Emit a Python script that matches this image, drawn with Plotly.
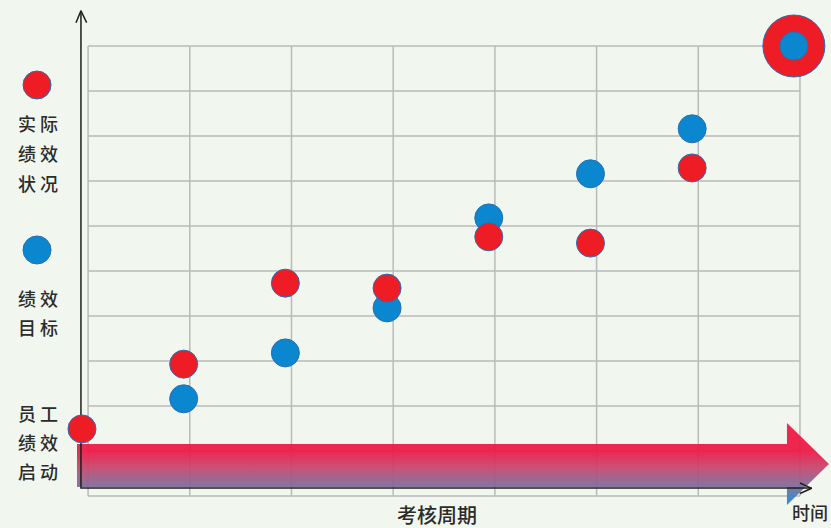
import plotly.graph_objects as go

# ---------------- data ----------------
periods_actual = [0, 1, 2, 3, 4, 5, 6]
actual_perf = [1.49, 2.93, 4.73, 4.62, 5.76, 5.62, 7.29]
periods_target = [1, 2, 3, 4, 5, 6]
target_perf = [2.16, 3.18, 4.18, 6.18, 7.16, 8.16]
final_period = [7]
final_value = [10]

grid_cols = [0.06, 1.06, 2.06, 3.06, 4.06, 5.06, 6.06, 7.06]
grid_rows = [0, 1, 2, 3, 4, 5, 6, 7, 8, 9, 10]

label_actual = ["实 际", "绩 效", "状 况"]
label_target = ["绩 效", "目 标"]
label_start = ["员 工", "绩 效", "启 动"]
x_title = "考核周期"
time_label = "时间"

RED = "#ee1c25"
BLUE = "#0a87cf"
EDGE = "#2a6db3"
BG = "#f1f7ee"
GRID = "#bababa"
TXT = "#2b2b2b"
FONT = "Noto Sans CJK SC"

XR = [-0.806, 7.365]
YR = [-0.711, 11.022]

fig = go.Figure()

# grid (below traces)
shapes = []
for gx in grid_cols:
    shapes.append(dict(type="line", xref="x", yref="y", x0=gx, x1=gx,
                       y0=grid_rows[0], y1=grid_rows[-1], layer="below",
                       line=dict(color=GRID, width=1.5)))
for gy in grid_rows:
    shapes.append(dict(type="line", xref="x", yref="y", x0=grid_cols[0], x1=grid_cols[-1],
                       y0=gy, y1=gy, layer="below",
                       line=dict(color=GRID, width=1.5)))

# big time arrow with gradient
arrow_x = [-0.049, 6.932, 6.932, 7.345, 6.932, 6.932, -0.049, -0.049]
arrow_y = [1.156, 1.156, 1.622, 0.711, -0.2, 0.2, 0.2, 1.156]
fig.add_trace(go.Scatter(
    x=arrow_x, y=arrow_y, mode="lines", fill="toself",
    line=dict(width=0), opacity=0.93, hoverinfo="skip", showlegend=False,
    fillgradient=dict(type="vertical", start=-0.2, stop=1.622,
                      colorscale=[[0, "rgb(18,140,214)"], [0.22, "rgb(122,110,156)"],
                                  [0.45, "rgb(198,70,110)"], [0.66, "rgb(238,24,70)"],
                                  [1, "rgb(238,24,70)"]]),
))

# axis lines with arrowheads
ax_x = [-0.01, -0.01, 7.175, None, -0.059, -0.01, 0.046, None, 7.06, 7.175, 7.06]
ax_y = [10.784, 0.178, 0.178, None, 10.518, 10.784, 10.518, None, 0.289, 0.171, 0.056]
fig.add_trace(go.Scatter(x=ax_x, y=ax_y, mode="lines", line=dict(color="#1e1e1e", width=1.5),
                         hoverinfo="skip", showlegend=False))

# target (blue) then actual (red) on top
fig.add_trace(go.Scatter(x=periods_target, y=target_perf, mode="markers", name="绩效目标",
                         marker=dict(size=28, color=BLUE, line=dict(color=EDGE, width=1)),
                         cliponaxis=False, showlegend=False))
fig.add_trace(go.Scatter(x=periods_actual, y=actual_perf, mode="markers", name="实际绩效状况",
                         marker=dict(size=28, color=RED, line=dict(color=EDGE, width=1)),
                         cliponaxis=False, showlegend=False))
# final target
fig.add_trace(go.Scatter(x=final_period, y=final_value, mode="markers",
                         marker=dict(size=62, color=RED, line=dict(color=EDGE, width=1)),
                         cliponaxis=False, showlegend=False))
fig.add_trace(go.Scatter(x=final_period, y=final_value, mode="markers",
                         marker=dict(size=28, color=BLUE, line=dict(color=EDGE, width=1)),
                         cliponaxis=False, showlegend=False))

# legend markers on left
fig.add_trace(go.Scatter(x=[-0.442, -0.442], y=[9.133, 5.467], mode="markers",
                         marker=dict(size=28, color=[RED, BLUE], line=dict(color=EDGE, width=1)),
                         cliponaxis=False, showlegend=False, hoverinfo="skip"))

annotations = []
def add_lines(lines, ys, size=18):
    for t, yy in zip(lines, ys):
        annotations.append(dict(x=-0.433, y=yy, xref="x", yref="y", text=t, showarrow=False,
                                xanchor="center", yanchor="middle",
                                font=dict(family=FONT, size=size, color=TXT, weight=500)))

add_lines(label_actual, [8.296, 7.616, 6.949])
add_lines(label_target, [4.407, 3.762])
add_lines(label_start, [1.851, 1.193, 0.556])
annotations.append(dict(x=3.491, y=-0.422, xref="x", yref="y", text=x_title, showarrow=False,
                        xanchor="center", yanchor="middle",
                        font=dict(family=FONT, size=20, color=TXT, weight=500)))
annotations.append(dict(x=6.965, y=-0.356, xref="x", yref="y", text=time_label, showarrow=False,
                        xanchor="left", yanchor="middle",
                        font=dict(family=FONT, size=18, color=TXT, weight=500)))

fig.update_layout(
    width=831, height=528,
    margin=dict(l=0, r=0, t=0, b=0),
    paper_bgcolor=BG, plot_bgcolor=BG,
    xaxis=dict(range=XR, visible=False, fixedrange=True),
    yaxis=dict(range=YR, visible=False, fixedrange=True),
    shapes=shapes, annotations=annotations,
    showlegend=False, hovermode=False,
)

fig.write_html("out.html", config={"displayModeBar": False},
               post_script="document.body.style.margin='0';document.body.style.background='" + BG + "';")
